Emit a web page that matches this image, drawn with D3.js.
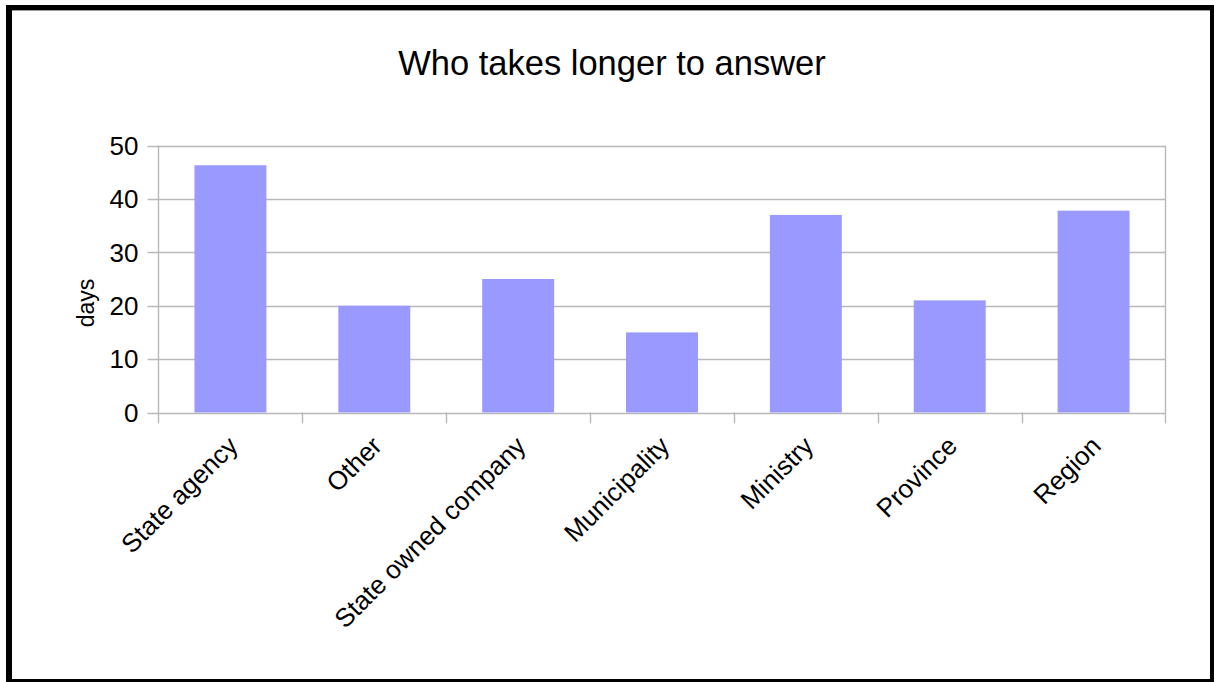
<!DOCTYPE html>
<html>
<head>
<meta charset="utf-8">
<script src="https://cdn.jsdelivr.net/npm/d3@7"></script>
<style>
  html, body { margin: 0; padding: 0; background: #ffffff; }
  svg { display: block; font-family: "Liberation Sans", Arial, sans-serif; }
</style>
</head>
<body>
<svg id="chart" width="1214" height="682"></svg>
<script>
// Average answer time per kind of body
const categories = ["State agency", "Other", "State owned company", "Municipality", "Ministry", "Province", "Region"];
const days = [46.3, 20, 25, 15, 37, 21, 37.8];
const yTicks = [0, 10, 20, 30, 40, 50];
const title = "Who takes longer to answer";
const yLabel = "days";

const svg = d3.select("#chart");
const W = 1214, H = 682;

// Framed page
svg.append("rect").attr("x", 6).attr("y", 5).attr("width", W - 6).attr("height", H - 5).attr("fill", "#000");
svg.append("rect").attr("x", 12).attr("y", 10).attr("width", 1198).attr("height", 669).attr("fill", "#fff");
svg.append("line").attr("x1", 12).attr("x2", 1210).attr("y1", 10.5).attr("y2", 10.5)
  .attr("stroke", "#9a9a9a").attr("stroke-width", 1);

const plot = { left: 158.5, right: 1165.5, top: 145.5, bottom: 412.5 };

const x = d3.scaleBand().domain(categories).range([plot.left, plot.right]).paddingInner(0.5).paddingOuter(0.25);
const xBound = d3.scaleLinear().domain([0, categories.length]).range([plot.left, plot.right]);
const y = d3.scaleLinear().domain([0, 50]).range([plot.bottom, plot.top]);

const grid = "#b9b9b9";

// Horizontal grid lines
svg.append("g").selectAll("line").data(yTicks).join("line")
  .attr("x1", plot.left - 11).attr("x2", plot.right)
  .attr("y1", d => Math.round(y(d)) + 0.5).attr("y2", d => Math.round(y(d)) + 0.5)
  .attr("stroke", grid).attr("stroke-width", 1.4);

// Plot frame: left axis and right edge
svg.append("line").attr("x1", plot.left).attr("x2", plot.left).attr("y1", plot.top).attr("y2", plot.bottom + 11)
  .attr("stroke", grid).attr("stroke-width", 1.4);
svg.append("line").attr("x1", plot.right).attr("x2", plot.right).attr("y1", plot.top).attr("y2", plot.bottom + 11)
  .attr("stroke", grid).attr("stroke-width", 1.4);

// Category boundary ticks below the axis
svg.append("g").selectAll("line").data(d3.range(1, categories.length)).join("line")
  .attr("x1", d => Math.round(xBound(d)) + 0.5).attr("x2", d => Math.round(xBound(d)) + 0.5)
  .attr("y1", plot.bottom).attr("y2", plot.bottom + 11)
  .attr("stroke", grid).attr("stroke-width", 1.4);

// Bars
svg.append("g").selectAll("rect").data(categories).join("rect")
  .attr("x", d => x(d))
  .attr("width", x.bandwidth())
  .attr("y", (d, i) => y(days[i]))
  .attr("height", (d, i) => y(0) - y(days[i]))
  .attr("fill", "#9999ff");

// Y tick labels
svg.append("g").selectAll("text").data(yTicks).join("text")
  .attr("x", plot.left - 20).attr("y", d => y(d))
  .attr("dy", "0.36em")
  .attr("text-anchor", "end")
  .attr("font-size", 26)
  .text(d => d);

// X labels, rotated
svg.append("g").selectAll("text").data(categories).join("text")
  .attr("transform", d => `translate(${x(d) + x.bandwidth() / 2 + 9},${plot.bottom + 35}) rotate(-45)`)
  .attr("text-anchor", "end")
  .attr("font-size", 26)
  .text(d => d);

// Y axis title
svg.append("text")
  .attr("transform", `translate(94,${303}) rotate(-90)`)
  .attr("text-anchor", "middle")
  .attr("font-size", 23)
  .text(yLabel);

// Chart title
svg.append("text")
  .attr("x", 612).attr("y", 75)
  .attr("text-anchor", "middle")
  .attr("font-size", 34.5)
  .text(title);
</script>
</body>
</html>
